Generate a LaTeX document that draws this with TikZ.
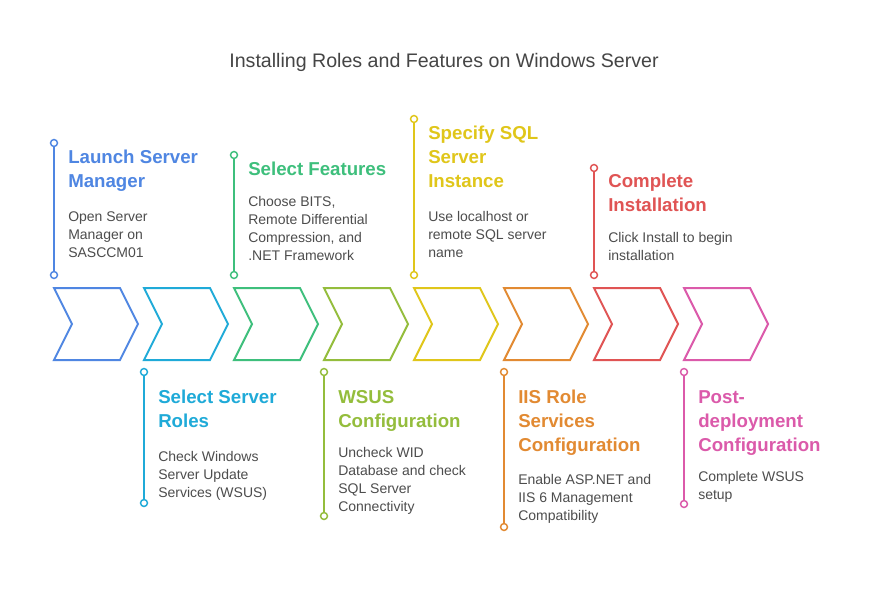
\documentclass[tikz,border=0pt]{standalone}
\usepackage{fontspec}
\setmainfont{Liberation Sans}
\usepackage{xcolor}
\usepackage{tikz}
\usetikzlibrary{positioning}
\definecolor{ink}{HTML}{454545}
\definecolor{bodytext}{HTML}{4D4D4D}
\definecolor{cblue}{HTML}{4F86E2}
\definecolor{ccyan}{HTML}{1FAAD8}
\definecolor{cgreen}{HTML}{3EBF7C}
\definecolor{colive}{HTML}{94BD3C}
\definecolor{cyellow}{HTML}{E0C61A}
\definecolor{corange}{HTML}{E28A32}
\definecolor{cred}{HTML}{E05454}
\definecolor{cpink}{HTML}{DB5AAA}

\begin{document}
\begin{tikzpicture}[x=0.75pt,y=-0.75pt,
  heading/.style={anchor=base west,align=left,inner sep=0pt,font=\fontsize{14}{18}\selectfont\bfseries},
  desc/.style={anchor=base west,align=left,inner sep=0pt,text=bodytext,font=\fontsize{10.5}{13.5}\selectfont},
  chev/.style={line width=1.5pt,line join=miter},
  pinline/.style={line width=1.5pt},
  pinend/.style={line width=1.1pt,fill=white}]
  \useasboundingbox[fill=white] (0,0) rectangle (888,600);
  \node[anchor=base,inner sep=0pt,text=ink,font=\fontsize{14.7}{17}\selectfont] (title) at (444,67) {Installing Roles and Features on Windows Server};
  % chevrons
  \foreach \x/\c in {54/cblue,144/ccyan,234/cgreen,324/colive,414/cyellow,504/corange,594/cred,684/cpink}
    \draw[chev,\c] (\x,288) -- ++(66,0) -- ++(18,36) -- ++(-18,36) -- ++(-66,0) -- ++(18,-36) -- cycle;
  % pins
  \foreach \name/\x/\ya/\yb/\c in {launch/54/143/275/cblue,roles/144/372/503/ccyan,features/234/155/275/cgreen,
      wsus/324/372/516/colive,sql/414/119/275/cyellow,iis/504/372/527/corange,install/594/168/275/cred,post/684/372/504/cpink}{
    \coordinate (\name-top) at (\x,\ya);
    \coordinate (\name-bot) at (\x,\yb);
    \draw[pinline,\c] (\name-top) -- (\name-bot);
    \draw[\c,pinend] (\name-top) circle[radius=2.6pt];
    \draw[\c,pinend] (\name-bot) circle[radius=2.6pt];
  }
  % upper labels (placed at the baseline of their last line)
  \node[heading,text=cblue] (launch-head) at (68,187) {Launch Server\\Manager};
  \node[desc] (launch-desc) at (68,257) {Open Server\\Manager on\\SASCCM01};
  \node[heading,text=cgreen] (features-head) at (248,175) {Select Features};
  \node[desc] (features-desc) at (248,260) {Choose BITS,\\Remote Differential\\Compression, and\\.NET Framework};
  \node[heading,text=cyellow] (sql-head) at (428,187) {Specify SQL\\Server\\Instance};
  \node[desc] (sql-desc) at (428,257) {Use localhost or\\remote SQL server\\name};
  \node[heading,text=cred] (install-head) at (608,211) {Complete\\Installation};
  \node[desc] (install-desc) at (608,260) {Click Install to begin\\installation};
  % lower labels
  \node[heading,text=ccyan] (roles-head) at (158,427) {Select Server\\Roles};
  \node[desc] (roles-desc) at (158,497) {Check Windows\\Server Update\\Services (WSUS)};
  \node[heading,text=colive] (wsus-head) at (338,427) {WSUS\\Configuration};
  \node[desc] (wsus-desc) at (338,511) {Uncheck WID\\Database and check\\SQL Server\\Connectivity};
  \node[heading,text=corange] (iis-head) at (518,451) {IIS Role\\Services\\Configuration};
  \node[desc] (iis-desc) at (518,520) {Enable ASP.NET and\\IIS 6 Management\\Compatibility};
  \node[heading,text=cpink] (post-head) at (698,451) {Post-\\deployment\\Configuration};
  \node[desc] (post-desc) at (698,499) {Complete WSUS\\setup};
\end{tikzpicture}
\end{document}
